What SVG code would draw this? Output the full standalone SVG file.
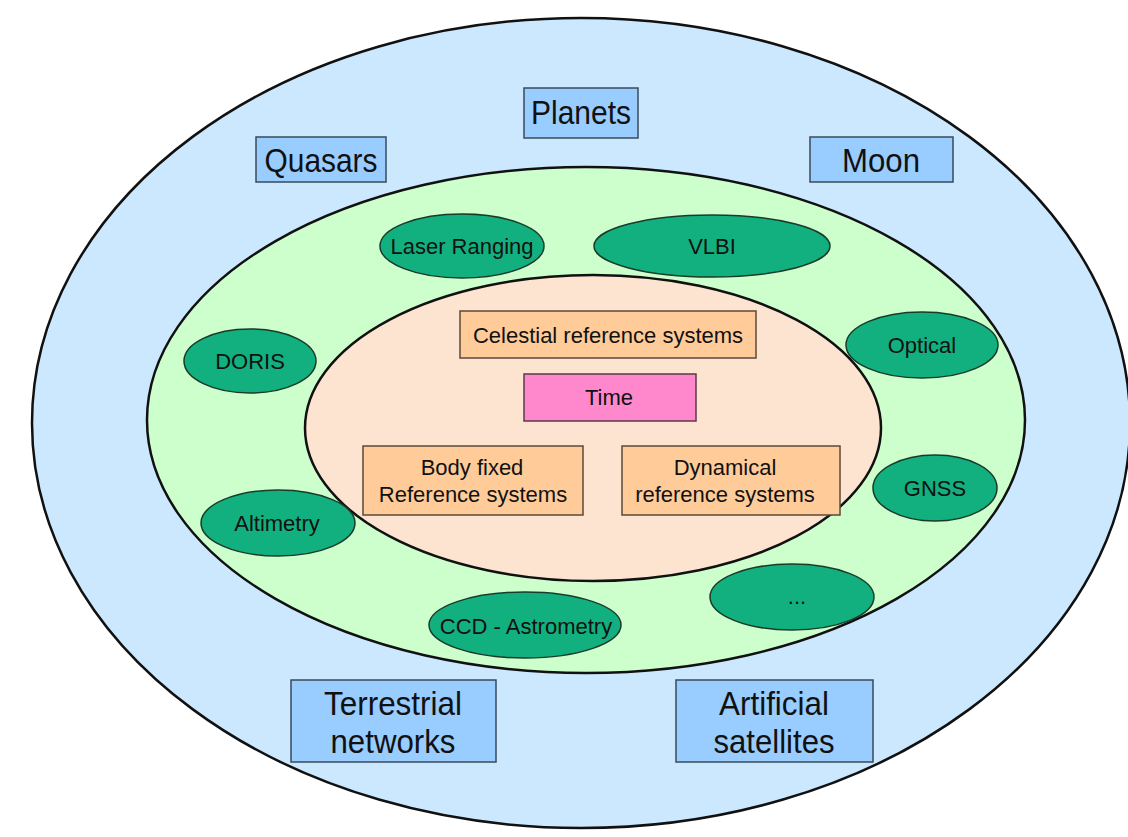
<svg xmlns="http://www.w3.org/2000/svg" width="1128" height="837" viewBox="0 0 1128 837">
<style>
.ring{stroke:#111;stroke-width:2.5}
.blue{fill:#99CCFF;stroke:#3a4a5a;stroke-width:1.5}
.orng{fill:#FFCC99;stroke:#5a4a3a;stroke-width:1.5}
.pink{fill:#FF88CC;stroke:#5a3a4a;stroke-width:1.5}
.tech{fill:#12B07E;stroke:#1a3a2a;stroke-width:1.5}
.big{font-family:"Liberation Sans",Arial,sans-serif;font-size:34px;fill:#111;text-anchor:middle}
.mid{font-family:"Liberation Sans",Arial,sans-serif;font-size:22px;fill:#111;text-anchor:middle}
</style>
<rect width="1128" height="837" fill="#fff"/>
<g id="rings">
<ellipse class="ring" cx="581" cy="423" rx="549" ry="405" fill="#CCE8FF"/>
<ellipse class="ring" cx="586" cy="420" rx="439" ry="253" fill="#CCFFCC"/>
<ellipse class="ring" cx="593" cy="428" rx="288" ry="153" fill="#FDE4D0"/>
</g>
<g id="connectors"></g>
<g id="planets"><rect class="blue" x="524" y="88" width="114" height="50"/><text class="big" x="581" y="124" textLength="100" lengthAdjust="spacingAndGlyphs">Planets</text></g>
<g id="quasars"><rect class="blue" x="256" y="137" width="130" height="45"/><text class="big" x="321" y="172" textLength="113" lengthAdjust="spacingAndGlyphs">Quasars</text></g>
<g id="moon"><rect class="blue" x="810" y="137" width="143" height="45"/><text class="big" x="881" y="172" textLength="78" lengthAdjust="spacingAndGlyphs">Moon</text></g>
<g id="terrestrial"><rect class="blue" x="291" y="680" width="205" height="82"/><text class="big" x="393" y="715" textLength="138" lengthAdjust="spacingAndGlyphs">Terrestrial</text><text class="big" x="393" y="753" textLength="125" lengthAdjust="spacingAndGlyphs">networks</text></g>
<g id="satellites"><rect class="blue" x="676" y="680" width="197" height="82"/><text class="big" x="774" y="715" textLength="110" lengthAdjust="spacingAndGlyphs">Artificial</text><text class="big" x="774" y="753" textLength="121" lengthAdjust="spacingAndGlyphs">satellites</text></g>
<g id="laser"><ellipse class="tech" cx="462" cy="246" rx="82" ry="32"/><text class="mid" x="462" y="254">Laser Ranging</text></g>
<g id="vlbi"><ellipse class="tech" cx="712" cy="246" rx="118" ry="31"/><text class="mid" x="712" y="254">VLBI</text></g>
<g id="doris"><ellipse class="tech" cx="250" cy="361" rx="66" ry="32"/><text class="mid" x="250" y="369">DORIS</text></g>
<g id="optical"><ellipse class="tech" cx="922" cy="345" rx="76" ry="33"/><text class="mid" x="922" y="353">Optical</text></g>
<g id="altimetry"><ellipse class="tech" cx="278" cy="523" rx="77" ry="33"/><text class="mid" x="277" y="531">Altimetry</text></g>
<g id="gnss"><ellipse class="tech" cx="935" cy="488" rx="62" ry="33"/><text class="mid" x="935" y="496">GNSS</text></g>
<g id="ccd"><ellipse class="tech" cx="525" cy="625" rx="96" ry="33"/><text class="mid" x="526" y="634">CCD - Astrometry</text></g>
<g id="more"><ellipse class="tech" cx="792" cy="597" rx="82" ry="33"/><text class="mid" x="797" y="604">...</text></g>
<g id="celestial"><rect class="orng" x="460" y="311" width="296" height="47"/><text class="mid" x="608" y="343">Celestial reference systems</text></g>
<g id="time"><rect class="pink" x="524" y="374" width="172" height="47"/><text class="mid" x="609" y="405">Time</text></g>
<g id="bodyfixed"><rect class="orng" x="363" y="446" width="220" height="69"/><text class="mid" x="472" y="475">Body fixed</text><text class="mid" x="473" y="502">Reference systems</text></g>
<g id="dynamical"><rect class="orng" x="622" y="446" width="218" height="69"/><text class="mid" x="725" y="475">Dynamical</text><text class="mid" x="725" y="502">reference systems</text></g>
</svg>
